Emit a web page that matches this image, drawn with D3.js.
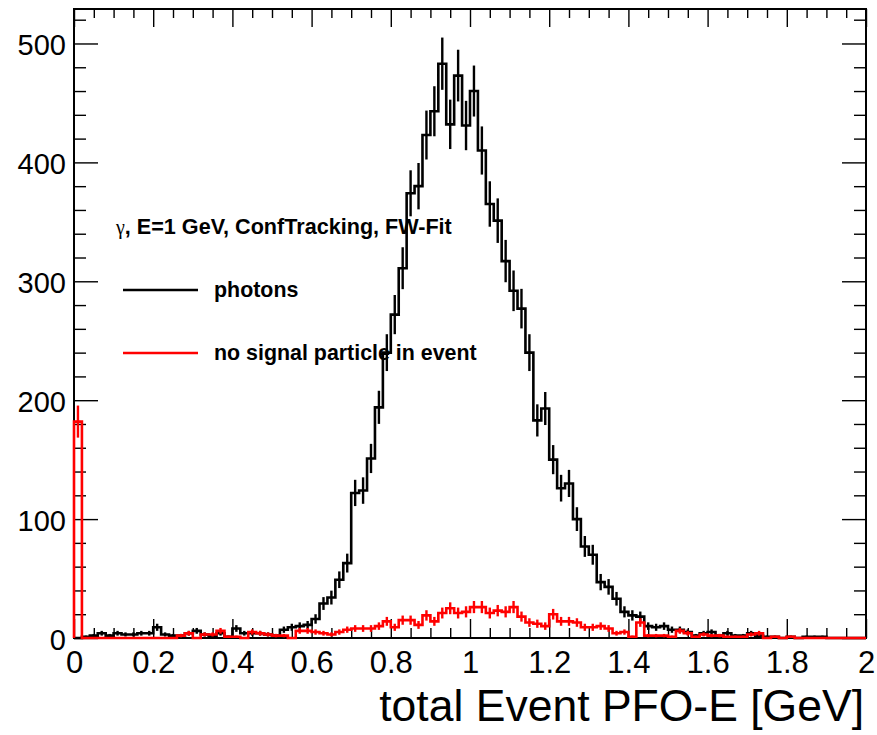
<!DOCTYPE html>
<html><head><meta charset="utf-8">
<script src="https://cdn.jsdelivr.net/npm/d3@7"></script>
<style>body{margin:0;background:#fff}svg{display:block}</style>
</head><body>
<svg id="c" width="877" height="735"></svg>
<script>
// ---- data ----
const binLow = 0, binHigh = 2, nBins = 100;
const photons = [
  0, 1, 2, 4, 2, 4, 3, 3, 4, 4,
  9, 3, 2, 2, 4, 6, 3, 2, 4, 1,
  8, 4, 4, 4, 3, 2, 7, 9, 10, 11,
  16, 29, 34, 49, 63, 122, 124, 151, 194, 240,
  272, 311, 374, 380, 423, 443, 483, 432, 473, 431,
  460, 410, 365, 351, 317, 292, 277, 240, 183, 193,
  150, 126, 130, 100, 77, 70, 47, 43, 33, 22,
  19, 18, 10, 9, 10, 7, 7, 5, 2, 4,
  5, 2, 4, 2, 2, 4, 2, 1, 1, 0,
  1, 0, 1, 1, 1, 0, 0, 0, 0, 0
];
const noSignal = [
  182, 0, 0, 0, 0, 0, 0, 0, 0, 0,
  0, 0, 0, 2, 4, 0, 3, 3, 6, 1,
  1, 0, 5, 4, 3, 2, 2, 0, 6, 6,
  5, 4, 3, 5, 7, 8, 8, 8, 10, 14,
  9, 15, 15, 11, 19, 14, 21, 25, 21, 22,
  26, 26, 21, 23, 22, 26, 18, 13, 12, 10,
  20, 14, 14, 13, 9, 9, 10, 8, 4, 5,
  1, 13, 2, 2, 2, 1, 6, 4, 1, 3,
  2, 2, 1, 1, 1, 3, 4, 0, 1, 0,
  1, 0, 0, 0, 0, 0, 0, 0, 0, 0
];
const xTickValues = [0, 0.2, 0.4, 0.6, 0.8, 1, 1.2, 1.4, 1.6, 1.8, 2];
const xTickLabels = ["0", "0.2", "0.4", "0.6", "0.8", "1", "1.2", "1.4", "1.6", "1.8", "2"];
const yTickValues = [0, 100, 200, 300, 400, 500];
const yTickLabels = ["0", "100", "200", "300", "400", "500"];
const xMinorStep = 0.05, yMinorStep = 20, yMax = 529;
const xTitle = "total Event PFO-E [GeV]";
const legendTitle = ", E=1 GeV, ConfTracking, FW-Fit";
const seriesNames = ["photons", "no signal particle in event"];
const seriesColors = ["#000000", "#ff0000"];

// ---- layout ----
const L = 74, R = 866, T = 9, B = 638;
const svg = d3.select("#c");
const x = d3.scaleLinear().domain([binLow, binHigh]).range([L, R]);
const y = d3.scaleLinear().domain([0, yMax]).range([B, T]);
const font = "'Liberation Sans', Arial, Helvetica, sans-serif";

const xMinor = d3.range(0, 41).map(i => +(i * xMinorStep).toFixed(3)).filter(v => !xTickValues.some(t => Math.abs(t - v) < 1e-6));
const yMinor = d3.range(0, 27).map(i => i * yMinorStep).filter(v => v % 100 !== 0 && v <= yMax);

function styleAxis(g) {
  g.select(".domain").remove();
  g.selectAll(".tick line").attr("stroke", "#000").attr("stroke-width", 1.4);
}

// left axis
const gl = svg.append("g").attr("transform", `translate(${L},0)`)
  .call(d3.axisLeft(y).tickValues(yTickValues).tickFormat((d, i) => yTickLabels[i]).tickSize(-24).tickPadding(8));
styleAxis(gl);
gl.selectAll("text").attr("font-family", font).attr("font-size", 29).attr("fill", "#000").attr("dy", null).attr("y", 11);
const glm = svg.append("g").attr("transform", `translate(${L},0)`)
  .call(d3.axisLeft(y).tickValues(yMinor).tickFormat("").tickSize(-12));
styleAxis(glm);
// right axis
const gr = svg.append("g").attr("transform", `translate(${R},0)`)
  .call(d3.axisRight(y).tickValues(yTickValues).tickFormat("").tickSize(-24));
styleAxis(gr);
const grm = svg.append("g").attr("transform", `translate(${R},0)`)
  .call(d3.axisRight(y).tickValues(yMinor).tickFormat("").tickSize(-12));
styleAxis(grm);
// bottom axis
const gb = svg.append("g").attr("transform", `translate(0,${B})`)
  .call(d3.axisBottom(x).tickValues(xTickValues).tickFormat((d, i) => xTickLabels[i]).tickSize(-19));
styleAxis(gb);
gb.selectAll("text").attr("font-family", font).attr("font-size", 31).attr("fill", "#000").attr("dy", null).attr("y", 35);
const gbm = svg.append("g").attr("transform", `translate(0,${B})`)
  .call(d3.axisBottom(x).tickValues(xMinor).tickFormat("").tickSize(-10));
styleAxis(gbm);
// top axis
const gt = svg.append("g").attr("transform", `translate(0,${T})`)
  .call(d3.axisTop(x).tickValues(xTickValues).tickFormat("").tickSize(-18));
styleAxis(gt);
const gtm = svg.append("g").attr("transform", `translate(0,${T})`)
  .call(d3.axisTop(x).tickValues(xMinor).tickFormat("").tickSize(-9));
styleAxis(gtm);

// frame
svg.append("rect").attr("x", L).attr("y", T).attr("width", R - L).attr("height", B - T)
  .attr("fill", "none").attr("stroke", "#000").attr("stroke-width", 2);

// histograms
const bw = (binHigh - binLow) / nBins;
const line = d3.line().x(d => x(d[0])).y(d => y(d[1]));
function drawHist(values, color) {
  const pts = [[binLow, 0]];
  values.forEach((v, i) => { pts.push([binLow + i * bw, v]); pts.push([binLow + (i + 1) * bw, v]); });
  pts.push([binHigh, 0]);
  const g = svg.append("g");
  g.append("path").attr("d", line(pts)).attr("fill", "none").attr("stroke", color)
    .attr("stroke-width", 2.6).attr("stroke-linejoin", "miter");
  g.selectAll("line.err").data(values.map((v, i) => ({ v, i })).filter(d => d.v > 0))
    .enter().append("line")
    .attr("x1", d => x(binLow + (d.i + 0.5) * bw)).attr("x2", d => x(binLow + (d.i + 0.5) * bw))
    .attr("y1", d => y(Math.max(0, d.v - Math.sqrt(d.v)))).attr("y2", d => y(d.v + Math.sqrt(d.v)))
    .attr("stroke", color).attr("stroke-width", 2.4);
}
drawHist(photons, seriesColors[0]);
drawHist(noSignal, seriesColors[1]);

// legend
const lt = svg.append("text").attr("x", 116).attr("y", 234).attr("font-family", font)
  .attr("font-size", 21.6).attr("font-weight", "bold").attr("fill", "#000");
lt.append("tspan").attr("font-family", "'Liberation Serif', 'DejaVu Serif', serif").attr("font-weight", "normal").attr("font-size", 20).text("γ");
lt.append("tspan").text(legendTitle);
const legY = [290, 353];
seriesNames.forEach((name, i) => {
  svg.append("line").attr("x1", 123).attr("x2", 198).attr("y1", legY[i]).attr("y2", legY[i])
    .attr("stroke", seriesColors[i]).attr("stroke-width", 2.4);
  svg.append("text").attr("x", 214).attr("y", legY[i] + 7).attr("font-family", font)
    .attr("font-size", 21.4).attr("font-weight", "bold").attr("fill", "#000").text(name);
});

// x title
svg.append("text").attr("x", 864).attr("y", 721).attr("text-anchor", "end")
  .attr("font-family", font).attr("font-size", 44.5).attr("fill", "#000").text(xTitle);
</script>
</body></html>
